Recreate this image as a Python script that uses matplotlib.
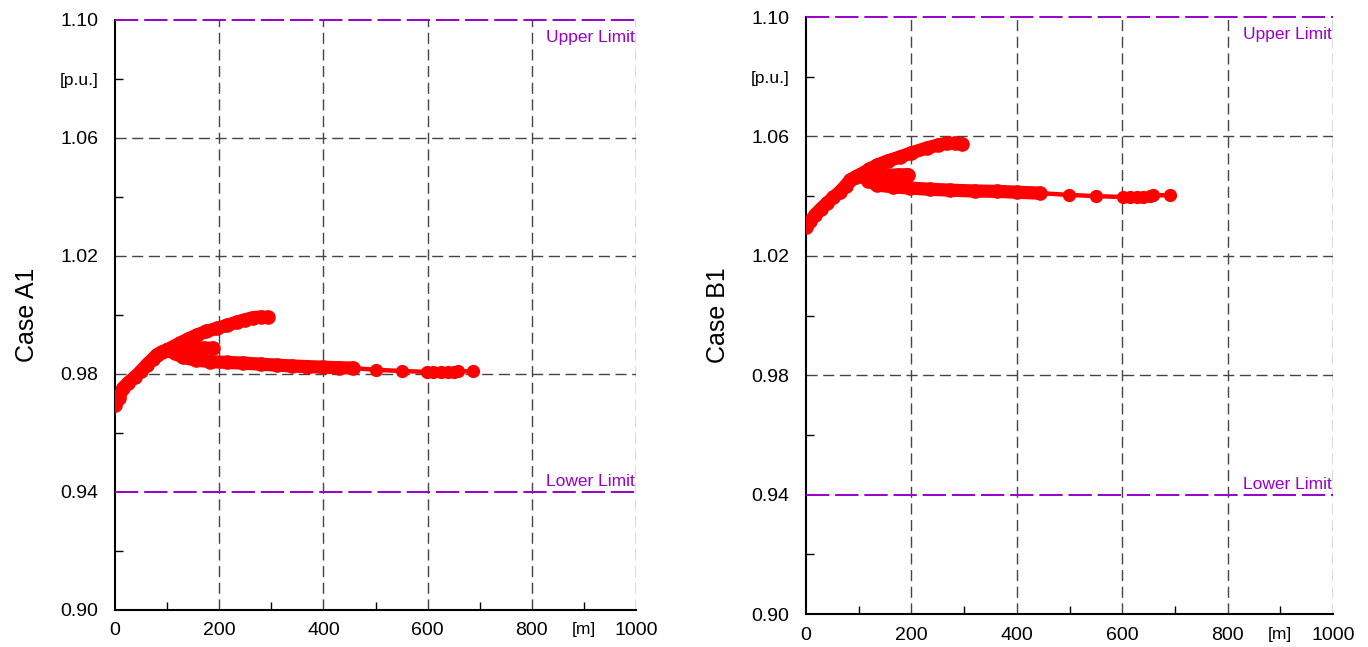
import numpy as np
import matplotlib
matplotlib.use("Agg")
import matplotlib.pyplot as plt
from matplotlib.ticker import FixedLocator, FixedFormatter

plt.rcParams['font.family'] = ['Liberation Sans', 'DejaVu Sans']

# Case A1 trajectory, split into its branches: distance [m], voltage [p.u.]
a1_rise_x = [0, 8, 15, 25, 38, 50, 61, 72, 80, 90, 100]
a1_rise_v = [0.9695, 0.9720, 0.9752, 0.9770, 0.9790, 0.9810, 0.9832, 0.9850, 0.9865, 0.9875, 0.9882]
a1_up_x = [100, 125, 140, 157, 175, 196, 215, 234, 250, 265, 280, 294]
a1_up_v = [0.9882, 0.9905, 0.9918, 0.9932, 0.9944, 0.9955, 0.9965, 0.9976, 0.9984, 0.9991, 0.9993, 0.9992]
a1_mid_x = [100, 115, 131, 150, 170, 188]
a1_mid_v = [0.9882, 0.9885, 0.9884, 0.9886, 0.9887, 0.9888]
a1_low_x = [100, 115, 131, 155, 182, 215, 246, 280, 310, 340, 368, 400, 430, 457]
a1_low_v = [0.9882, 0.9870, 0.9856, 0.9847, 0.9842, 0.9839, 0.9837, 0.9833, 0.9830, 0.9827, 0.9825, 0.9823, 0.9821, 0.9820]
a1_tail_x = [457, 501, 551, 599, 610, 625, 639, 650, 658, 687]
a1_tail_v = [0.9820, 0.9814, 0.9810, 0.9807, 0.9808, 0.9806, 0.9805, 0.9807, 0.9809, 0.9809]

# Case B1 trajectory
b1_rise_x = [0, 8, 17, 28, 40, 52, 64, 75, 84, 94, 102]
b1_rise_v = [1.0296, 1.0315, 1.0337, 1.0357, 1.0377, 1.0396, 1.0414, 1.0435, 1.0454, 1.0465, 1.0471]
b1_up_x = [102, 120, 135, 155, 178, 200, 229, 250, 267, 282, 296]
b1_up_v = [1.0471, 1.0490, 1.0504, 1.0518, 1.0531, 1.0545, 1.0561, 1.0571, 1.0577, 1.0577, 1.0575]
b1_mid_x = [102, 127, 150, 175, 193]
b1_mid_v = [1.0471, 1.0471, 1.0470, 1.0471, 1.0472]
b1_low_x = [102, 118, 135, 165, 197, 235, 273, 320, 362, 400, 444]
b1_low_v = [1.0471, 1.0452, 1.0437, 1.0431, 1.0427, 1.0423, 1.0420, 1.0417, 1.0416, 1.0413, 1.0410]
b1_tail_x = [444, 499, 550, 602, 614, 628, 640, 652, 659, 691]
b1_tail_v = [1.0410, 1.0404, 1.0400, 1.0397, 1.0398, 1.0396, 1.0396, 1.0399, 1.0403, 1.0403]

upper_limit = 1.10
lower_limit = 0.94
y_major = [0.90, 0.94, 0.98, 1.02, 1.06, 1.10]
y_minor = [0.92, 0.96, 1.00, 1.04, 1.08]
x_major = [0, 200, 400, 600, 800, 1000]
x_minor = [100, 300, 500, 700, 900]

RED = '#ff0000'
PURPLE = '#9900cc'
GRID = '#444444'

fig = plt.figure(figsize=(13.68, 6.47), dpi=100)
ax_a = fig.add_axes([0.0841, 0.0572, 0.3808, 0.912])
ax_b = fig.add_axes([0.5892, 0.0510, 0.3852, 0.9227])


def draw_case(ax, branches, tail, name):
    for bx, bv in branches:
        ax.plot(bx, bv, color=RED, lw=9.5, marker='o', ms=9.5,
                solid_capstyle='round', solid_joinstyle='round', zorder=5)
    ax.plot(tail[0], tail[1], color=RED, lw=3.2, marker='o', ms=8.5, zorder=5)

    ax.set_xlim(0, 1000)
    ax.set_ylim(0.90, 1.10)

    # dashed grid
    for gx in [200, 400, 600, 800, 1000]:
        ax.axvline(gx, color=GRID, lw=1.0, dashes=(8, 4), zorder=1)
    for gy in [0.98, 1.02, 1.06]:
        ax.axhline(gy, color=GRID, lw=1.0, dashes=(8, 4), zorder=1)

    # voltage limits
    ax.axhline(upper_limit, color=PURPLE, lw=1.4, dashes=(12, 3), zorder=3, clip_on=False)
    ax.axhline(lower_limit, color=PURPLE, lw=1.4, dashes=(12, 3), zorder=3)
    ax.text(998, upper_limit - 0.0035, 'Upper Limit', color=PURPLE, fontsize=12.5,
            ha='right', va='top')
    ax.text(998, lower_limit + 0.001, 'Lower Limit', color=PURPLE, fontsize=12.5,
            ha='right', va='bottom')

    for s in ['top', 'right']:
        ax.spines[s].set_visible(False)
    for s in ['left', 'bottom']:
        ax.spines[s].set_linewidth(1.5)

    ax.xaxis.set_major_locator(FixedLocator(x_major))
    ax.xaxis.set_minor_locator(FixedLocator(x_minor))
    ax.xaxis.set_minor_formatter(FixedFormatter(['', '', '', '', '[m]']))
    ax.yaxis.set_major_locator(FixedLocator(y_major))
    ax.yaxis.set_major_formatter(plt.FuncFormatter(lambda v, p: f'{v:.2f}'))
    ax.yaxis.set_minor_locator(FixedLocator(y_minor))
    ax.yaxis.set_minor_formatter(FixedFormatter(['', '', '', '', '[p.u.]']))

    ax.tick_params(which='major', direction='in', length=0, labelsize=14)
    ax.tick_params(which='minor', direction='in', length=6, width=1, labelsize=12.5)
    ax.tick_params(axis='y', which='both', pad=12)
    ax.tick_params(axis='x', which='both', pad=9)
    ax.set_ylabel(name, fontsize=18, labelpad=15)


draw_case(ax_a,
          [(a1_rise_x, a1_rise_v), (a1_up_x, a1_up_v), (a1_mid_x, a1_mid_v), (a1_low_x, a1_low_v)],
          (a1_tail_x, a1_tail_v), 'Case A1')
draw_case(ax_b,
          [(b1_rise_x, b1_rise_v), (b1_up_x, b1_up_v), (b1_mid_x, b1_mid_v), (b1_low_x, b1_low_v)],
          (b1_tail_x, b1_tail_v), 'Case B1')

fig.savefig('out.png', dpi=100)
